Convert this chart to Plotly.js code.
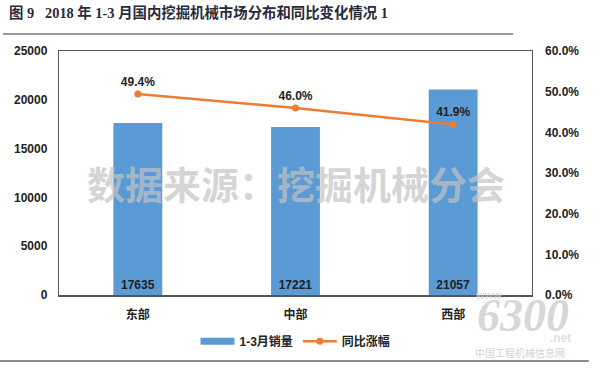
<!DOCTYPE html>
<html><head><meta charset="utf-8">
<script src="https://cdn.plot.ly/plotly-3.0.1.min.js"></script>
<style>html,body{margin:0;padding:0;background:#fff}#chart{width:600px;height:373px}</style>
</head><body><div id="chart"></div>
<script>
const categories = ['东部', '中部', '西部'];
const sales = [17635, 17221, 21057];
const growth = [0.494, 0.460, 0.419];
const leftTicks = [0, 5000, 10000, 15000, 20000, 25000];
const rightTicks = [0, 0.1, 0.2, 0.3, 0.4, 0.5, 0.6];

const font = 'Liberation Sans, Arial, Noto Sans CJK SC, sans-serif';
const traces = [
  {type: 'bar', name: '1-3月销量', x: categories, y: sales, width: 0.31, showlegend: false,
   marker: {color: '#5B9BD5'},
   text: sales.map(String), textposition: 'inside', insidetextanchor: 'start',
   textfont: {family: font, size: 12, color: '#222', weight: 'bold'},
   constraintext: 'none', cliponaxis: false},
  {type: 'scatter', mode: 'lines', name: '1-3月销量', x: [null], y: [null], hoverinfo: 'skip',
   line: {color: '#5B9BD5', width: 7}},
  {type: 'scatter', mode: 'lines+markers+text', name: '同比涨幅', x: categories, y: growth, yaxis: 'y2',
   line: {color: '#ED7D31', width: 2.5}, marker: {color: '#ED7D31', size: 7},
   text: growth.map(v => (v * 100).toFixed(1) + '%'), textposition: 'top center',
   textfont: {family: font, size: 12, color: '#222', weight: 'bold'}, cliponaxis: false}
];
const layout = {
  width: 600, height: 373,
  margin: {l: 59, r: 68, t: 51, b: 78},
  paper_bgcolor: '#fff', plot_bgcolor: '#fff',
  showlegend: true,
  legend: {orientation: 'h', x: 0.5, xanchor: 'center', y: -0.19, yanchor: 'middle',
    font: {family: font, size: 12, color: '#222', weight: 'bold'}, traceorder: 'normal', itemwidth: 34},
  bargap: 0.69,
  xaxis: {showline: true, linecolor: '#555', linewidth: 1.5, mirror: true, ticks: '',
    tickfont: {family: font, size: 12, color: '#222', weight: 'bold'}, ticklabelstandoff: 8,
    fixedrange: true},
  yaxis: {range: [0, 25000], tickvals: leftTicks, tickformat: 'd', showgrid: false, zeroline: false,
    showline: true, linecolor: '#555', linewidth: 1.2, mirror: true, ticks: '',
    tickfont: {family: font, size: 12, color: '#222', weight: 'bold'}, ticklabelstandoff: 8},
  yaxis2: {range: [0, 0.6], tickvals: rightTicks, tickformat: '.1%', overlaying: 'y', side: 'right',
    showgrid: false, zeroline: false, showline: false, ticks: '',
    tickfont: {family: font, size: 12, color: '#222', weight: 'bold'}, ticklabelstandoff: 12},
  annotations: [
    {text: '<b>图 9</b>   <b>2018 年 1-3 月国内挖掘机械市场分布和同比变化情况 1</b>', xref: 'paper', yref: 'paper',
     x: -0.11, y: 1.156, xanchor: 'left', yanchor: 'middle', showarrow: false,
     font: {family: 'Liberation Serif, Noto Sans CJK SC, serif', size: 14.4, color: '#2a2a3a'}},
    {text: '数据来源：挖掘机械分会', xref: 'paper', yref: 'paper', x: 0.5, y: 0.46,
     xanchor: 'center', yanchor: 'middle', showarrow: false,
     font: {family: 'Noto Sans CJK SC, sans-serif', size: 38, color: 'rgba(195,195,195,0.7)', weight: 'bold'}},
    {text: 'www.', xref: 'paper', yref: 'paper', x: 0.91, y: 0.0, xanchor: 'center', yanchor: 'middle',
     showarrow: false, font: {family: 'Liberation Sans, sans-serif', size: 11, color: 'rgba(215,215,215,0.8)', weight: 'bold'}},
    {text: '<i>6300</i>', xref: 'paper', yref: 'paper', x: 0.98, y: -0.085, xanchor: 'center', yanchor: 'middle',
     showarrow: false, font: {family: 'Liberation Serif, serif', size: 46, color: 'rgba(205,205,205,0.8)', weight: 'bold'}},
    {text: '.net', xref: 'paper', yref: 'paper', x: 1.06, y: -0.175, xanchor: 'center', yanchor: 'middle',
     showarrow: false, font: {family: 'Liberation Sans, sans-serif', size: 12, color: 'rgba(215,215,215,0.8)', weight: 'bold'}},
    {text: '中国工程机械信息网', xref: 'paper', yref: 'paper', x: 0.975, y: -0.234, xanchor: 'center', yanchor: 'middle',
     showarrow: false, font: {family: 'Noto Sans CJK SC, sans-serif', size: 10, color: 'rgba(205,205,205,0.9)'}}
  ],
  shapes: [
    {type: 'line', xref: 'paper', yref: 'paper', x0: -0.118, x1: 0.96, y0: 1.07, y1: 1.07,
     line: {color: '#999', width: 2}},
    {type: 'line', xref: 'paper', yref: 'paper', x0: -0.125, x1: 1.12, y0: -0.27, y1: -0.27,
     line: {color: '#666', width: 1.5}}
  ]
};
Plotly.newPlot('chart', traces, layout, {displayModeBar: false, staticPlot: true});
</script></body></html>
